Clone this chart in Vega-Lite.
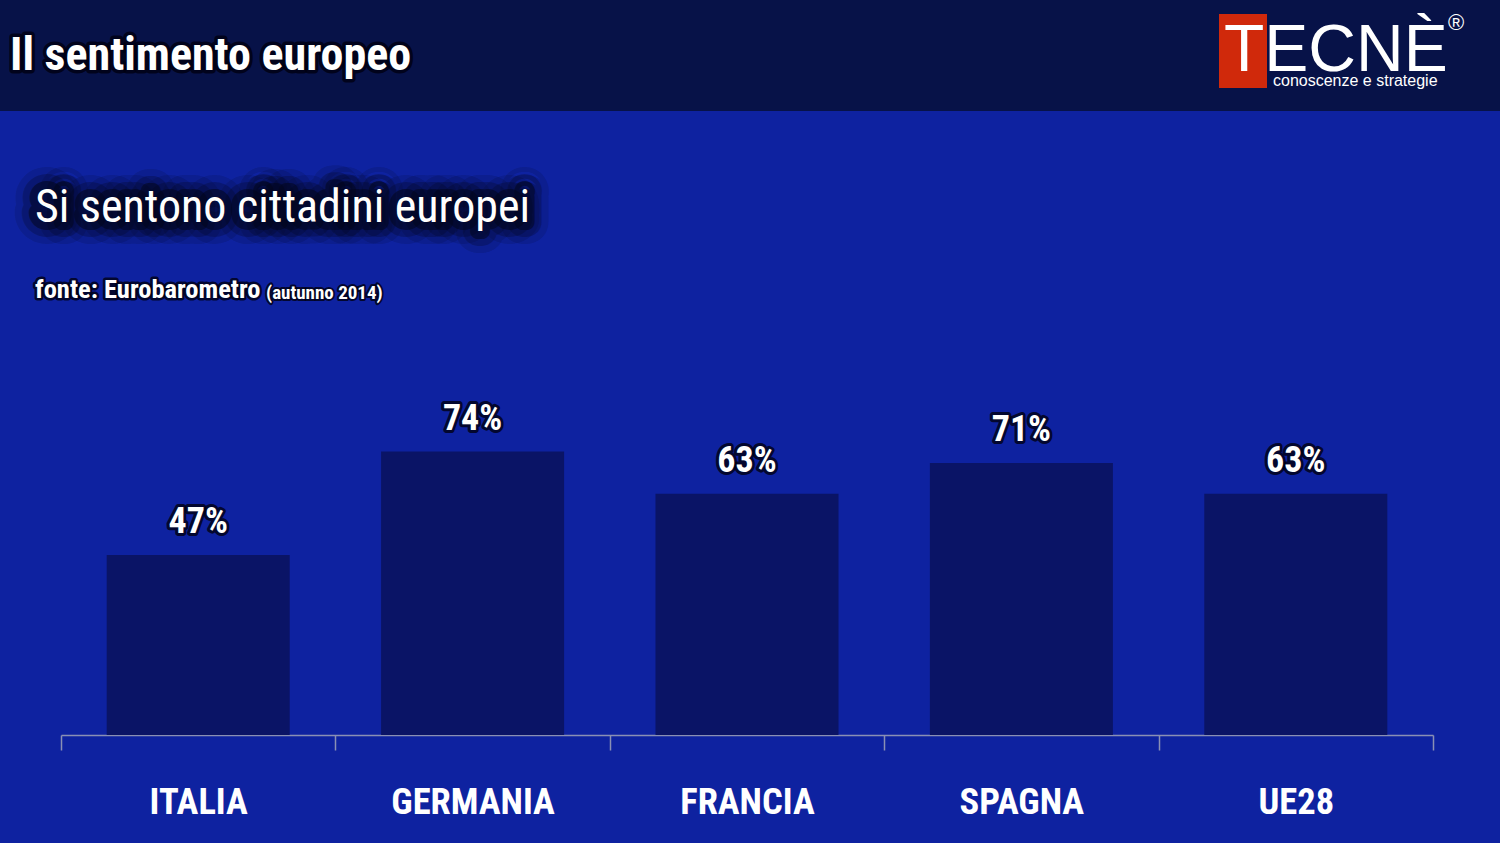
{
  "$schema": "https://vega.github.io/schema/vega-lite/v6.json",
  "width": 1372,
  "height": 383,
  "autosize": {"type": "none"},
  "padding": {"left": 61, "top": 352, "right": 67, "bottom": 108},
  "background": "#0e22a0",
  "config": {"view": {"stroke": null}},
  "datasets": {
    "paesi": [
      {"paese": "ITALIA", "valore": 47},
      {"paese": "GERMANIA", "valore": 74},
      {"paese": "FRANCIA", "valore": 63},
      {"paese": "SPAGNA", "valore": 71},
      {"paese": "UE28", "valore": 63}
    ],
    "uno": [{"id": 1}]
  },
  "layer": [
    {
      "data": {"name": "uno"},
      "mark": {"type": "rect", "color": "#071248"},
      "encoding": {"x": {"value": -61}, "x2": {"value": 1439}, "y": {"value": -352}, "y2": {"value": -241}}
    },
    {
      "data": {"name": "uno"},
      "mark": {"type": "rect", "color": "#d0290b"},
      "encoding": {"x": {"value": 1158}, "x2": {"value": 1206}, "y": {"value": -338}, "y2": {"value": -264}}
    },
    {
      "data": {"name": "uno"},
      "mark": {"type": "text", "text": "TECNÈ", "font": "Liberation Sans, Arial, sans-serif", "fontSize": 66, "color": "#ffffff", "align": "left", "baseline": "alphabetic"},
      "encoding": {"x": {"value": 1163}, "y": {"value": -281}}
    },
    {
      "data": {"name": "uno"},
      "mark": {"type": "text", "text": "®", "font": "Liberation Sans, Arial, sans-serif", "fontSize": 22, "color": "#ffffff", "align": "left", "baseline": "alphabetic"},
      "encoding": {"x": {"value": 1387}, "y": {"value": -322}}
    },
    {
      "data": {"name": "uno"},
      "mark": {"type": "text", "text": "conoscenze e strategie", "font": "Liberation Sans, Arial, sans-serif", "fontSize": 16, "color": "#ffffff", "align": "left", "baseline": "alphabetic"},
      "encoding": {"x": {"value": 1212}, "y": {"value": -266}}
    },
    {
      "data": {"name": "uno"},
      "mark": {"type": "text", "text": "Il sentimento europeo", "font": "Roboto Condensed, Roboto", "fontWeight": "bold", "fontSize": 46, "color": "#000010", "stroke": "#000010", "strokeWidth": 7, "strokeOpacity": 0.8, "strokeJoin": "round", "align": "left", "baseline": "alphabetic"},
      "encoding": {"x": {"value": -51}, "y": {"value": -282}}
    },
    {
      "data": {"name": "uno"},
      "mark": {"type": "text", "text": "Il sentimento europeo", "font": "Roboto Condensed, Roboto", "fontWeight": "bold", "fontSize": 46, "color": "#ffffff", "align": "left", "baseline": "alphabetic"},
      "encoding": {"x": {"value": -51}, "y": {"value": -282}}
    },
    {
      "data": {"name": "uno"},
      "mark": {"type": "text", "text": "Si sentono cittadini europei", "font": "Roboto Condensed, Roboto", "fontSize": 46, "color": "#02051c", "stroke": "#02051c", "strokeWidth": 44, "strokeOpacity": 0.15, "strokeJoin": "round", "align": "left", "baseline": "alphabetic"},
      "encoding": {"x": {"value": -26}, "y": {"value": -130}}
    },
    {
      "data": {"name": "uno"},
      "mark": {"type": "text", "text": "Si sentono cittadini europei", "font": "Roboto Condensed, Roboto", "fontSize": 46, "color": "#02051c", "stroke": "#02051c", "strokeWidth": 30, "strokeOpacity": 0.25, "strokeJoin": "round", "align": "left", "baseline": "alphabetic"},
      "encoding": {"x": {"value": -26}, "y": {"value": -130}}
    },
    {
      "data": {"name": "uno"},
      "mark": {"type": "text", "text": "Si sentono cittadini europei", "font": "Roboto Condensed, Roboto", "fontSize": 46, "color": "#02051c", "stroke": "#02051c", "strokeWidth": 16, "strokeOpacity": 0.55, "strokeJoin": "round", "align": "left", "baseline": "alphabetic"},
      "encoding": {"x": {"value": -26}, "y": {"value": -130}}
    },
    {
      "data": {"name": "uno"},
      "mark": {"type": "text", "text": "Si sentono cittadini europei", "font": "Roboto Condensed, Roboto", "fontSize": 46, "color": "#ffffff", "align": "left", "baseline": "alphabetic"},
      "encoding": {"x": {"value": -26}, "y": {"value": -130}}
    },
    {
      "data": {"name": "uno"},
      "mark": {"type": "text", "text": "fonte: Eurobarometro", "font": "Roboto Condensed, Roboto", "fontWeight": "bold", "fontSize": 26.5, "color": "#000010", "stroke": "#000010", "strokeWidth": 5, "strokeOpacity": 0.8, "strokeJoin": "round", "align": "left", "baseline": "alphabetic"},
      "encoding": {"x": {"value": -26}, "y": {"value": -54}}
    },
    {
      "data": {"name": "uno"},
      "mark": {"type": "text", "text": "fonte: Eurobarometro", "font": "Roboto Condensed, Roboto", "fontWeight": "bold", "fontSize": 26.5, "color": "#ffffff", "align": "left", "baseline": "alphabetic"},
      "encoding": {"x": {"value": -26}, "y": {"value": -54}}
    },
    {
      "data": {"name": "uno"},
      "mark": {"type": "text", "text": "(autunno 2014)", "font": "Roboto Condensed, Roboto", "fontWeight": "bold", "fontSize": 19, "color": "#000010", "stroke": "#000010", "strokeWidth": 4, "strokeOpacity": 0.8, "strokeJoin": "round", "align": "left", "baseline": "alphabetic"},
      "encoding": {"x": {"value": 205}, "y": {"value": -53}}
    },
    {
      "data": {"name": "uno"},
      "mark": {"type": "text", "text": "(autunno 2014)", "font": "Roboto Condensed, Roboto", "fontWeight": "bold", "fontSize": 19, "color": "#ffffff", "align": "left", "baseline": "alphabetic"},
      "encoding": {"x": {"value": 205}, "y": {"value": -53}}
    },
    {
      "data": {"name": "paesi"},
      "mark": {"type": "bar", "color": "#0a1466", "width": {"band": 0.667}},
      "encoding": {
        "x": {
          "field": "paese", "type": "nominal", "sort": null,
          "scale": {"paddingInner": 0, "paddingOuter": 0},
          "axis": {
            "title": null, "labelAngle": 0, "tickBand": "extent", "labelLimit": 0,
            "domainColor": "#8a90b4", "domainWidth": 1.5, "tickColor": "#8a90b4", "tickWidth": 1.5, "tickSize": 15,
            "labelColor": "#ffffff", "labelFont": "Roboto Condensed, Roboto",
            "labelFontWeight": "bold", "labelFontSize": 36.5, "labelBaseline": "alphabetic", "labelPadding": 63
          }
        },
        "y": {"field": "valore", "type": "quantitative", "scale": {"domain": [0, 100]}, "axis": null}
      }
    },
    {
      "data": {"name": "paesi"},
      "transform": [{"calculate": "datum.valore + '%'", "as": "etichetta"}],
      "mark": {"type": "text", "font": "Roboto Condensed, Roboto", "fontWeight": "bold", "fontSize": 36, "color": "#000010", "stroke": "#000010", "strokeWidth": 6, "strokeOpacity": 0.8, "strokeJoin": "round", "baseline": "alphabetic", "dy": -22},
      "encoding": {
        "x": {"field": "paese", "type": "nominal", "sort": null},
        "y": {"field": "valore", "type": "quantitative"},
        "text": {"field": "etichetta", "type": "nominal"}
      }
    },
    {
      "data": {"name": "paesi"},
      "transform": [{"calculate": "datum.valore + '%'", "as": "etichetta"}],
      "mark": {"type": "text", "font": "Roboto Condensed, Roboto", "fontWeight": "bold", "fontSize": 36, "color": "#ffffff", "baseline": "alphabetic", "dy": -22},
      "encoding": {
        "x": {"field": "paese", "type": "nominal", "sort": null},
        "y": {"field": "valore", "type": "quantitative"},
        "text": {"field": "etichetta", "type": "nominal"}
      }
    }
  ]
}
